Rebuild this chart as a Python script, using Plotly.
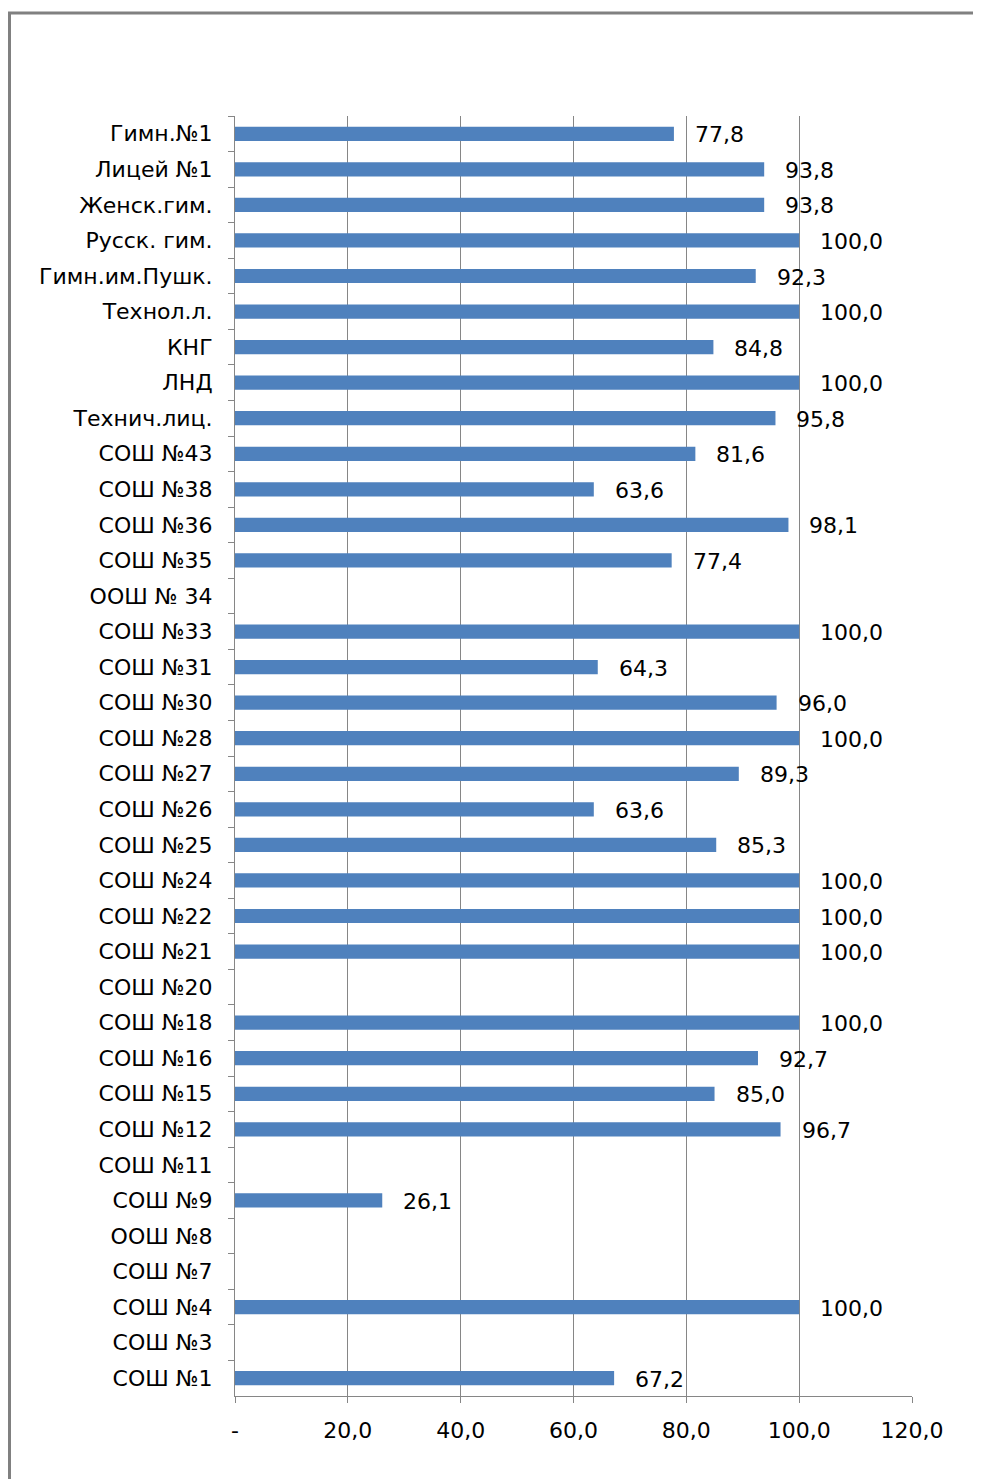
import plotly.graph_objects as go

schools = ["Гимн.№1", "Лицей №1", "Женск.гим.", "Русск. гим.", "Гимн.им.Пушк.",
           "Технол.л.", "КНГ", "ЛНД", "Технич.лиц.", "СОШ №43", "СОШ №38",
           "СОШ №36", "СОШ №35", "ООШ № 34", "СОШ №33", "СОШ №31", "СОШ №30",
           "СОШ №28", "СОШ №27", "СОШ №26", "СОШ №25", "СОШ №24", "СОШ №22",
           "СОШ №21", "СОШ №20", "СОШ №18", "СОШ №16", "СОШ №15", "СОШ №12",
           "СОШ №11", "СОШ №9", "ООШ №8", "СОШ №7", "СОШ №4", "СОШ №3", "СОШ №1"]
values = [77.8, 93.8, 93.8, 100.0, 92.3,
          100.0, 84.8, 100.0, 95.8, 81.6, 63.6,
          98.1, 77.4, None, 100.0, 64.3, 96.0,
          100.0, 89.3, 63.6, 85.3, 100.0, 100.0,
          100.0, None, 100.0, 92.7, 85.0, 96.7,
          None, 26.1, None, None, 100.0, None, 67.2]
x_tickvals = [0, 20, 40, 60, 80, 100, 120]
x_ticktext = ["-", "20,0", "40,0", "60,0", "80,0", "100,0", "120,0"]

FONT = "'DejaVu Sans', sans-serif"
GRAY = "#868686"
FS = 22

fig = go.Figure()
fig.add_trace(go.Bar(
    y=schools, x=values, orientation="h",
    marker=dict(color="#4F81BD", line=dict(width=0)),
    width=0.4, hoverinfo="skip",
))

annotations = []
for s, v in zip(schools, values):
    if v is None:
        continue
    annotations.append(dict(
        x=v, y=s, xref="x", yref="y",
        text=f"{v:.1f}".replace(".", ","),
        showarrow=False, xanchor="left", yanchor="middle",
        xshift=19, yshift=-1,
        font=dict(family=FONT, size=FS, color="#000000"),
    ))

# page body has an 8px margin; size the figure to fit the window
W, H = 973, 1471
L, R, T, B = 227, 69, 108, 83
pw, ph = W - L - R, H - T - B

fig.update_layout(
    width=W, height=H,
    margin=dict(l=L, r=R, t=T, b=B),
    paper_bgcolor="white", plot_bgcolor="white",
    showlegend=False,
    annotations=annotations,
    shapes=[dict(
        type="rect", xref="paper", yref="paper",
        x0=(1.5 - L) / pw, x1=(W + 20 - L) / pw,
        y0=(-B - 20) / ph, y1=(H - B - 5) / ph,
        line=dict(color="#808080", width=3),
        layer="below",
    )],
    font=dict(family=FONT, size=FS, color="#000000"),
)

fig.update_xaxes(
    range=[0, 120], tickvals=x_tickvals, ticktext=x_ticktext,
    showgrid=True, gridcolor=GRAY, gridwidth=1,
    showline=True, linecolor=GRAY, linewidth=1,
    ticks="outside", ticklen=6, tickcolor=GRAY,
    ticklabelstandoff=9, zeroline=False,
    tickfont=dict(family=FONT, size=FS),
)
fig.update_yaxes(
    autorange="reversed", type="category",
    showline=True, linecolor=GRAY, linewidth=1,
    ticks="outside", ticklen=6, tickcolor=GRAY,
    tickson="boundaries", showgrid=False,
    ticklabelstandoff=17,
    tickfont=dict(family=FONT, size=FS),
)

fig.write_html("out.html")
